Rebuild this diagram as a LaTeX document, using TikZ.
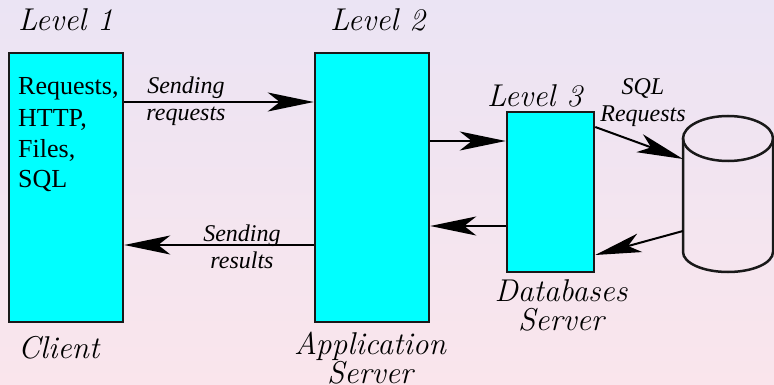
\documentclass[tikz,border=0pt]{standalone}
\usepackage{fontspec}
\newfontfamily\timesfont{Liberation Serif}
\usetikzlibrary{arrows.meta}
\definecolor{bgtop}{RGB}{235,228,244}
\definecolor{bgbot}{RGB}{250,229,236}
\definecolor{tierfill}{RGB}{0,255,255}
\definecolor{edge}{RGB}{25,25,25}
\newcommand\levelfont{\fontsize{31.5}{29}\selectfont\itshape}
\begin{document}
\begin{tikzpicture}[x=1pt,y=-1pt,
  tier/.style={draw=edge, line width=2.5pt, fill=tierfill, inner sep=0pt},
  arr/.style={line width=2pt, draw=black, -{Stealth[length=46pt,width=19pt,inset=12pt]}},
  level/.style={inner sep=0pt, align=center, font=\levelfont},
  note/.style={inner sep=0pt, align=center, font=\timesfont\itshape\fontsize{24}{27}\selectfont},
  items/.style={inner sep=0pt, align=left, font=\timesfont\fontsize{26}{31}\selectfont}]
\useasboundingbox (0,0) rectangle (774,385);
\shade[top color=bgtop, bottom color=bgbot] (0,0) rectangle (774,385);

% the three tiers
\node[tier, minimum width=114pt, minimum height=269pt] (client) at (66,187.5) {};
\node[tier, minimum width=114pt, minimum height=269pt] (app) at (372,187.5) {};
\node[tier, minimum width=87pt, minimum height=160pt] (db) at (550.5,192) {};

% database store
\draw[edge, line width=2.5pt] (728,138.5) ellipse [x radius=45pt, y radius=22.5pt];
\draw[edge, line width=2.5pt] (683,138.5) -- (683,252)
  arc[start angle=180, end angle=360, x radius=45pt, y radius=20pt] -- (773,138.5);
\coordinate (sqlin) at (683,159);
\coordinate (sqlout) at (683,231);

% client contents (multi-line nodes sit on the baseline of their last line)
\node[items, anchor=base west] (ctext) at (18,188) {Requests,\\HTTP,\\Files,\\SQL};

% connectors
\draw[arr] ([yshift=85.5pt]client.east) -- ([yshift=85.5pt]app.west);
\draw[arr] ([yshift=-57.5pt]app.west) -- ([yshift=-57.5pt]client.east);
\draw[arr] ([yshift=46.5pt]app.east) -- ([yshift=51pt]db.west);
\draw[arr] ([yshift=-34pt]db.west) -- ([yshift=-38.5pt]app.east);
\draw[arr] ([yshift=65pt]db.east) -- (sqlin);
\draw[arr] (sqlout) -- ([yshift=-63pt]db.east);

% connector labels
\node[note, anchor=base] (sreq) at (186,121) {Sending\\requests};
\node[note, anchor=base] (sres) at (242,268) {Sending\\results};
\node[note, anchor=base] (sql) at (643,122) {SQL\\Requests};

% tier labels
\node[level, anchor=base west] (lv1) at (18,31) {Level 1};
\node[level, anchor=base west] (lv2) at (330,31) {Level 2};
\node[level, anchor=base west] (lv3) at (487,107) {Level 3};
\node[level, anchor=base west] (lcl) at (18,358) {Client};
\node[level, anchor=base] (lapp) at (370,383) {Application\\Server};
\node[level, anchor=base] (ldb) at (561,330) {Databases\\Server};
\end{tikzpicture}
\end{document}
